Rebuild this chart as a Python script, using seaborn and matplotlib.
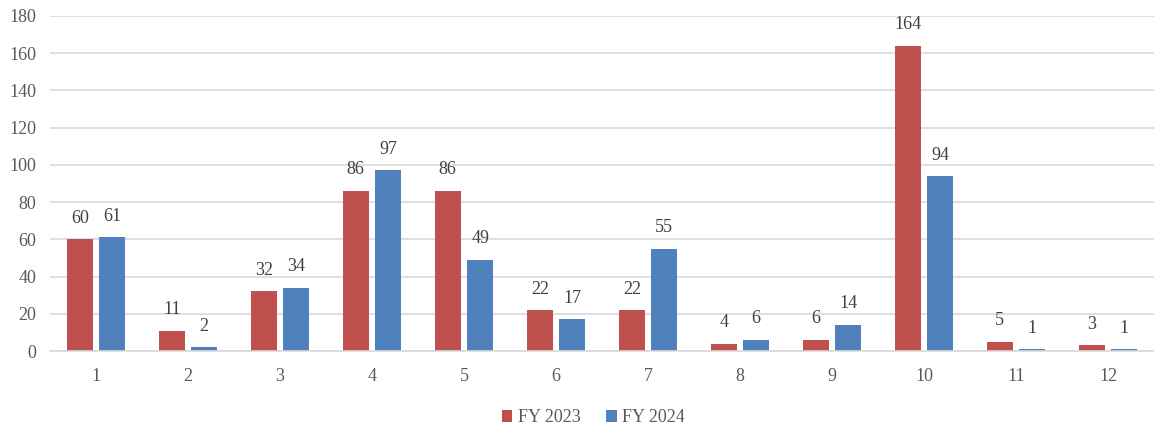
import matplotlib
matplotlib.use("Agg")
import matplotlib.pyplot as plt
import seaborn as sns
import pandas as pd

categories = ["1", "2", "3", "4", "5", "6", "7", "8", "9", "10", "11", "12"]
fy2023 = [60, 11, 32, 86, 86, 22, 22, 4, 6, 164, 5, 3]
fy2024 = [61, 2, 34, 97, 49, 17, 55, 6, 14, 94, 1, 1]
series_names = ["FY 2023", "FY 2024"]
colors = ["#C0504D", "#4F81BD"]

df = pd.DataFrame({
    "cat": categories * 2,
    "val": fy2023 + fy2024,
    "series": [series_names[0]] * len(categories) + [series_names[1]] * len(categories),
})

sns.set_theme(style="white")
plt.rcParams["font.family"] = ["Liberation Serif", "DejaVu Serif"]
text_color = "#595959"

fig = plt.figure(figsize=(11.54, 4.29), dpi=100)
ax = fig.add_axes([50 / 1154, 1 - 351 / 429, 1104 / 1154, 335 / 429])

sns.barplot(data=df, x="cat", y="val", hue="series", order=categories,
            hue_order=series_names, palette=colors, width=0.705, gap=0.215,
            saturation=1, linewidth=0, ax=ax, legend=True)

for cont in ax.containers:
    ax.bar_label(cont, padding=9, fontsize=13, color="#404040")

ax.set_ylim(0, 180)
ax.set_yticks(range(0, 181, 20))
ax.set_xlim(-0.5, 11.5)
ax.grid(axis="y", color="#D9D9D9", linewidth=1.2)
ax.set_axisbelow(True)
for s in ["top", "right", "left"]:
    ax.spines[s].set_visible(False)
ax.spines["bottom"].set_color("#D9D9D9")
ax.spines["bottom"].set_linewidth(1.2)
ax.tick_params(axis="both", length=0, labelsize=13, colors=text_color)
ax.tick_params(axis="x", pad=12)
ax.tick_params(axis="y", pad=10)
ax.set_xlabel("")
ax.set_ylabel("")

leg = ax.legend(loc="center", ncol=2,
                frameon=False, fontsize=13, handlelength=0.6, handleheight=0.6,
                handletextpad=0.3, columnspacing=1.4)
for t in leg.get_texts():
    t.set_color(text_color)
leg.set_bbox_to_anchor((0.514, 11 / 429), transform=fig.transFigure)

fig.savefig("out.png", dpi=100)
